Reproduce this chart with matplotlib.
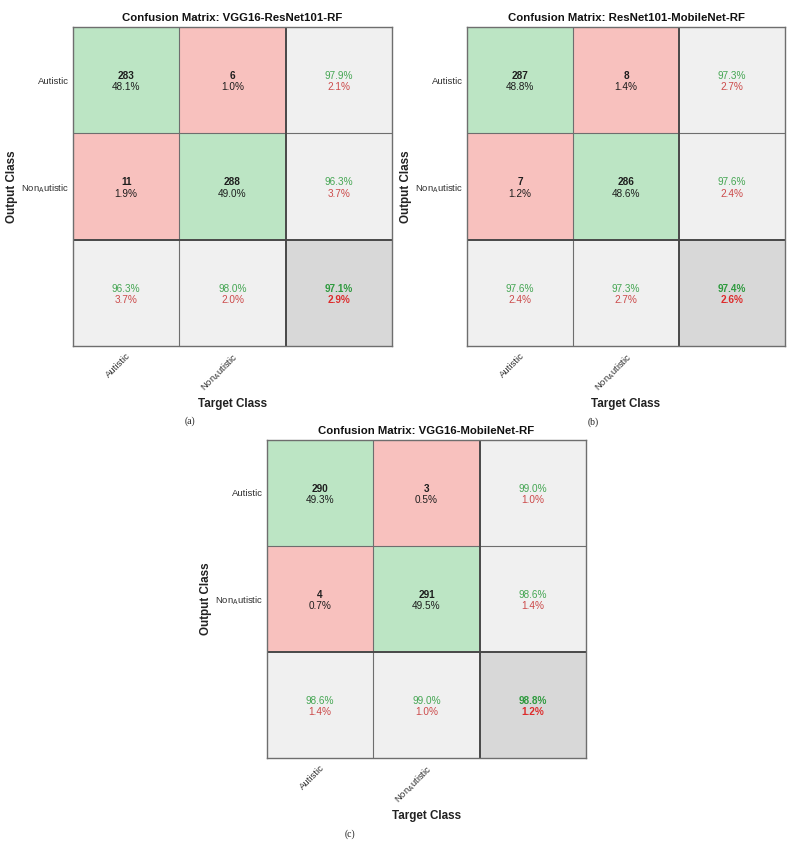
import matplotlib
matplotlib.use("Agg")
import matplotlib.pyplot as plt
import matplotlib.transforms as mtrans
import numpy as np
from matplotlib.colors import ListedColormap

plt.rcParams['font.family'] = ['Liberation Sans', 'DejaVu Sans']
plt.rcParams['mathtext.fontset'] = 'custom'
plt.rcParams['mathtext.rm'] = 'Liberation Sans'
plt.rcParams['mathtext.it'] = 'Liberation Sans'

class_labels = ["Autistic", "Non$_{\\mathrm{A}}$utistic"]
titles = ["Confusion Matrix: VGG16-ResNet101-RF",
          "Confusion Matrix: ResNet101-MobileNet-RF",
          "Confusion Matrix: VGG16-MobileNet-RF"]
panel_tags = ["(a)", "(b)", "(c)"]
counts_a = [[283, 6], [11, 288]]
counts_b = [[287, 8], [7, 286]]
counts_c = [[290, 3], [4, 291]]
all_counts = [counts_a, counts_b, counts_c]

W, H = 796, 844
# axes pixel boxes: left, top, right, bottom
boxes = [(73, 27, 392, 346), (467, 27, 785, 346), (267, 440, 586, 758)]
tag_pos = [(190, 421), (593, 422), (350, 834)]

GREEN = '#bce5c4'
RED = '#f8c1be'
LGREY = '#f0f0f0'
DGREY = '#d8d8d8'
TGREEN = '#45a653'
TRED = '#cc4a4a'
cmap = ListedColormap([GREEN, RED, LGREY, DGREY])

fig = plt.figure(figsize=(W / 100, H / 100), dpi=100)

UP, DN = -0.04, 0.066

for k in range(3):
    l, t, r, b = boxes[k]
    ax = fig.add_axes([l / W, 1 - b / H, (r - l) / W, (b - t) / H])
    cm = np.array(all_counts[k], dtype=float)
    n = cm.sum()
    idx = np.array([[0, 1, 2], [1, 0, 2], [2, 2, 3]])
    ax.pcolormesh(np.arange(4), np.arange(4), idx, cmap=cmap, vmin=-0.5, vmax=3.5,
                  edgecolors='none')
    ax.set_xlim(0, 3)
    ax.set_ylim(3, 0)
    ax.axvline(1, color='#6e6e6e', lw=0.8)
    ax.axhline(1, color='#6e6e6e', lw=0.8)
    ax.axvline(2, color='#484848', lw=1.4)
    ax.axhline(2, color='#484848', lw=1.4)
    for s in ax.spines.values():
        s.set_color('#6e6e6e')
        s.set_linewidth(1.0)
    fs = 7.2

    def two(x, y, top, bot, c1, c2, w1, w2):
        ax.text(x, y + UP, top, ha='center', va='center', fontsize=fs, fontweight=w1, color=c1)
        ax.text(x, y + DN, bot, ha='center', va='center', fontsize=fs, fontweight=w2, color=c2)

    for i in range(2):
        for j in range(2):
            two(j + 0.5, i + 0.5, f"{int(cm[i, j])}", f"{100 * cm[i, j] / n:.1f}%",
                '#1e1e1e', '#1e1e1e', 'bold', 'normal')
    for i in range(2):
        rs = cm[i].sum()
        two(2.5, i + 0.5, f"{100 * cm[i, i] / rs:.1f}%", f"{100 * (rs - cm[i, i]) / rs:.1f}%",
            TGREEN, TRED, 'normal', 'normal')
    for j in range(2):
        cs = cm[:, j].sum()
        two(j + 0.5, 2.5, f"{100 * cm[j, j] / cs:.1f}%", f"{100 * (cs - cm[j, j]) / cs:.1f}%",
            TGREEN, TRED, 'normal', 'normal')
    corr = np.trace(cm)
    two(2.5, 2.5, f"{100 * corr / n:.1f}%", f"{100 * (n - corr) / n:.1f}%",
        '#2e9a3e', '#dd2b2b', 'bold', 'bold')

    ax.set_xticks([0.5, 1.5])
    ax.set_xticklabels(class_labels, rotation=45, ha='right', rotation_mode='anchor',
                       fontsize=6.8, color='#303030')
    shift = mtrans.ScaledTranslation(3 / 100, 0, fig.dpi_scale_trans)
    for lab in ax.get_xticklabels():
        lab.set_transform(lab.get_transform() + shift)
    ax.set_yticks([0.5, 1.5])
    ax.set_yticklabels(class_labels, fontsize=6.8, color='#303030')
    ax.tick_params(axis='x', length=0, pad=4)
    ax.tick_params(axis='y', length=0, pad=3)
    ax.set_title(titles[k], fontsize=8.2, fontweight='bold', pad=4, color='#111111')
    ax.set_xlabel("Target Class", fontsize=8.4, fontweight='bold', color='#222222')
    ax.xaxis.set_label_coords(0.5, -58 / (b - t))
    ax.xaxis.label.set_va('center')
    ax.set_ylabel("Output Class", fontsize=8.4, fontweight='bold', color='#222222')
    ax.yaxis.set_label_coords(-0.172, 0.5)
    tx, ty = tag_pos[k]
    fig.text(tx / W, 1 - ty / H, panel_tags[k], ha='center', va='center',
             fontsize=7, family='Liberation Serif', color='#222222')

fig.savefig("out.png", dpi=100)
